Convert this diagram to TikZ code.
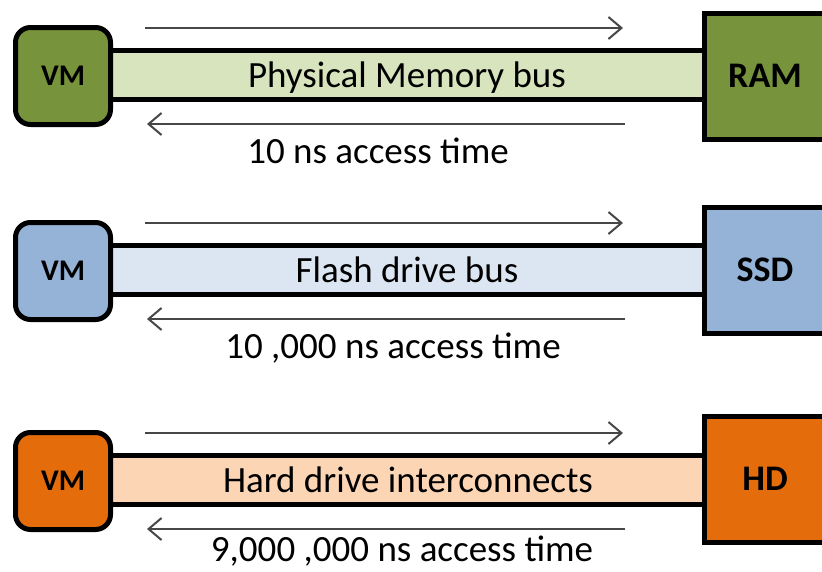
\documentclass[tikz,border=0pt]{standalone}
\usepackage{fontspec}
\setmainfont{Carlito}
\usetikzlibrary{arrows.meta}
\definecolor{gdark}{HTML}{77933C}
\definecolor{glight}{HTML}{D7E4BD}
\definecolor{bdark}{HTML}{95B3D7}
\definecolor{blight}{HTML}{DCE6F2}
\definecolor{odark}{HTML}{E46C0A}
\definecolor{olight}{HTML}{FCD5B5}
\begin{document}
\begin{tikzpicture}[x=1pt,y=-1pt,
  vmbox/.style={draw=black, line width=5pt, rounded corners=15pt, minimum width=95pt, minimum height=97pt, inner sep=0pt, font=\fontsize{30}{32}\selectfont\bfseries},
  devbox/.style={draw=black, line width=5pt, minimum width=121pt, minimum height=126pt, inner sep=0pt, font=\fontsize{36}{38}\selectfont\bfseries},
  busbar/.style={draw=black, line width=5pt, minimum width=610pt, minimum height=49pt, inner sep=0pt},
  bustext/.style={anchor=base, inner sep=0pt, font=\fontsize{37}{40}\selectfont},
  timetext/.style={anchor=base, inner sep=0pt, font=\fontsize{37}{40}\selectfont},
  arr/.style={draw=black!72, line width=2pt, -{Straight Barb[length=13pt,width=22pt]}}
]
\clip (0,0) rectangle (822,571);
\fill[white] (0,0) rectangle (822,571);
% Row 1
\node[busbar, fill=glight] (bus1) at (405,75) {};
\node[bustext] (bus1t) at (407,87) {Physical Memory bus};
\node[vmbox, fill=gdark] (vm1) at (63,76) {VM};
\node[devbox, fill=gdark] (ram) at (765,76) {RAM};
\coordinate (a1s) at (145,28); \coordinate (a1e) at (623,28);
\coordinate (b1s) at (625,124); \coordinate (b1e) at (147,124);
\draw[arr] (a1s) -- (a1e);
\draw[arr] (b1s) -- (b1e);
\node[timetext] (t1) at (378,163) {10 ns access time};
% Row 2
\node[busbar, fill=blight] (bus2) at (405,270) {};
\node[bustext] (bus2t) at (407,282) {Flash drive bus};
\node[vmbox, fill=bdark] (vm2) at (63,271) {VM};
\node[devbox, fill=bdark] (ssd) at (765,270) {SSD};
\coordinate (a2s) at (145,223); \coordinate (a2e) at (623,223);
\coordinate (b2s) at (625,319); \coordinate (b2e) at (147,319);
\draw[arr] (a2s) -- (a2e);
\draw[arr] (b2s) -- (b2e);
\node[timetext] (t2) at (393,358) {10 ,000 ns access time};
% Row 3
\node[busbar, fill=olight] (bus3) at (405,480) {};
\node[bustext] (bus3t) at (408,492) {Hard drive interconnects};
\node[vmbox, fill=odark] (vm3) at (63,481) {VM};
\node[devbox, fill=odark] (hd) at (765,479) {HD};
\coordinate (a3s) at (145,433); \coordinate (a3e) at (623,433);
\coordinate (b3s) at (625,529); \coordinate (b3e) at (147,529);
\draw[arr] (a3s) -- (a3e);
\draw[arr] (b3s) -- (b3e);
\node[timetext] (t3) at (402,561) {9,000 ,000 ns access time};
\end{tikzpicture}
\end{document}
